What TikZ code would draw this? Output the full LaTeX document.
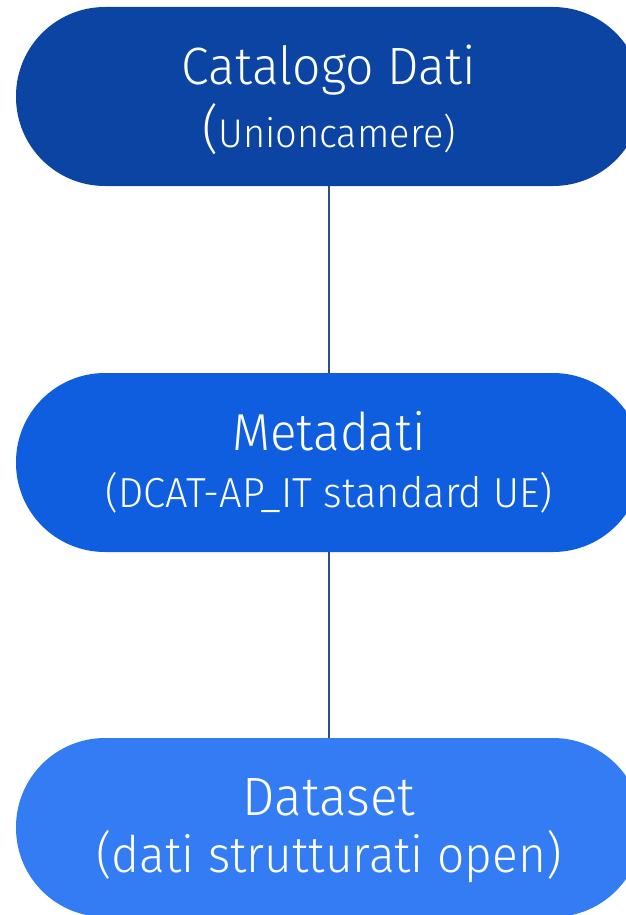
\documentclass[tikz,border=0pt]{standalone}
\usepackage{fontspec}
\setmainfont{Fira Sans}[UprightFont=* Light, FakeStretch=0.95]
\usetikzlibrary{calc}
\definecolor{catblue}{HTML}{0B44A3}
\definecolor{metblue}{HTML}{105EE0}
\definecolor{datblue}{HTML}{347CF3}
\definecolor{linkblue}{HTML}{2B4F8C}
\tikzset{
  stadbox/.style={minimum width=626pt, minimum height=179pt, rounded corners=89pt, inner sep=0pt, draw=none},
  label/.style={text=white, anchor=base, inner sep=0pt},
  link/.style={draw=linkblue, line width=1.5pt}
}
\newcommand{\stadium}[3]{ \node[stadbox, fill=#3] (#1) at (329, #2) {};}

\begin{document}
\begin{tikzpicture}[x=1pt, y=-1pt]
\useasboundingbox (0,0) rectangle (626,915);
% boxes
\stadium{catalogo}{96.5}{catblue}
\stadium{metadati}{462.5}{metblue}
\stadium{dataset}{827.5}{datblue}
% links
\draw[link] (catalogo.south) -- (metadati.north);
\draw[link] (metadati.south) -- (dataset.north);
% texts
\node[label, font=\fontsize{52.5}{60}\selectfont] (catalogoT) at (329, 85) {Catalogo Dati};
\node[label, font=\fontsize{40}{50}\selectfont] (catalogoS) at (329, 147) {{\fontsize{52.5}{60}\selectfont(}Unioncamere)};
\node[label, font=\fontsize{52}{60}\selectfont] (metadatiT) at (329, 450) {Metadati};
\node[label, font=\fontsize{42}{50}\selectfont] (metadatiS) at (329, 507) {(DCAT-AP\_IT standard UE)};
\node[label, font=\fontsize{54}{60}\selectfont] (datasetT) at (329, 815) {Dataset};
\node[label, font=\fontsize{50.4}{60}\selectfont] (datasetS) at (329, 872) {(dati strutturati open)};
\end{tikzpicture}
\end{document}
